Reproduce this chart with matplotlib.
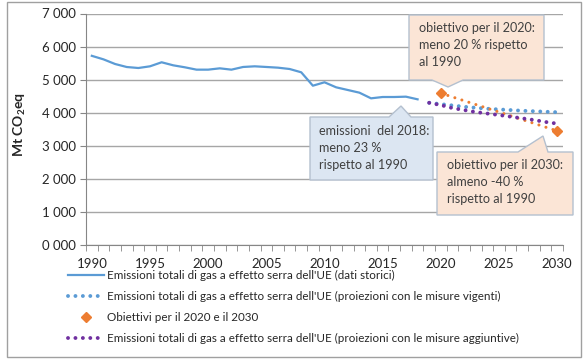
import numpy as np
import matplotlib
matplotlib.use('Agg')
import matplotlib.pyplot as plt
from matplotlib.lines import Line2D
from matplotlib.patches import Polygon

# data
years_hist = list(range(1990, 2019))
hist = [5720, 5614, 5473, 5382, 5352, 5403, 5525, 5433, 5373, 5302,
        5302, 5342, 5302, 5383, 5403, 5383, 5362, 5322, 5222, 4817,
        4920, 4768, 4687, 4606, 4435, 4475, 4475, 4485, 4405]

years_proj = list(range(2019, 2031))
wem = [4300, 4260, 4220, 4180, 4150, 4120, 4100, 4080, 4060, 4045, 4030, 4015]
wam = [4300, 4230, 4140, 4080, 4020, 3975, 3930, 3880, 3830, 3780, 3720, 3670]

target_years = [2020, 2030]
targets = [4590, 3450]

ytick_vals = [0, 1000, 2000, 3000, 4000, 5000, 6000, 7000]
ytick_labels = ['0 000', '1 000', '2 000', '3 000', '4 000', '5 000', '6 000', '7 000']
xtick_vals = [1990, 1995, 2000, 2005, 2010, 2015, 2020, 2025, 2030]

labels = ["Emissioni totali di gas a effetto serra dell'UE (dati storici)",
          "Emissioni totali di gas a effetto serra dell'UE (proiezioni con le misure vigenti)",
          "Obiettivi per il 2020 e il 2030",
          "Emissioni totali di gas a effetto serra dell'UE (proiezioni con le misure aggiuntive)"]

note_2018 = "emissioni  del 2018:\nmeno 23 %\nrispetto al 1990"
note_2020 = "obiettivo per il 2020:\nmeno 20 % rispetto\nal 1990"
note_2030 = "obiettivo per il 2030:\nalmeno -40 %\nrispetto al 1990"

plt.rcParams['font.family'] = ['Lato', 'DejaVu Sans']
plt.rcParams['mathtext.fontset'] = 'custom'
plt.rcParams['mathtext.bf'] = 'Lato:bold'
plt.rcParams['mathtext.rm'] = 'Lato'

W, H = 583, 363
fig = plt.figure(figsize=(W / 100, H / 100), dpi=100)

def fx(x, y):
    return (x / W, 1 - y / H)

# outer chart border
fig.patches.append(Polygon([fx(7, 2), fx(581, 2), fx(581, 357), fx(7, 357)],
                           closed=True, fill=False, edgecolor='#a0a0a0', lw=1,
                           transform=fig.transFigure, figure=fig))

ax = fig.add_axes([86 / W, (H - 245) / H, 477 / W, 231.5 / H])

blue = '#5b9bd5'
orange = '#ed7d31'
purple = '#7030a0'
dots = (0, (0.01, 1.9))

ax.plot(years_hist, hist, color=blue, lw=1.6, zorder=3)
ax.plot(years_proj, wem, color=blue, lw=2.8, linestyle=dots,
        dash_capstyle='round', zorder=3)
ax.plot(target_years, targets, color=orange, lw=2.2, linestyle=(0, (0.01, 2.4)),
        dash_capstyle='round', zorder=4)
ax.plot(target_years, targets, color=orange, marker='D', ms=5.5, linestyle='none', zorder=5)
ax.plot(years_proj, wam, color=purple, lw=2.8, linestyle=dots,
        dash_capstyle='round', zorder=4)

ax.set_xlim(1989.5, 2030.5)
ax.set_ylim(0, 7000)
ax.set_yticks(ytick_vals)
ax.set_yticklabels(ytick_labels)
ax.set_xticks(xtick_vals)
ax.set_xticks(np.arange(1989.5, 2031, 1), minor=True)
ax.tick_params(axis='x', which='major', length=0, pad=9, labelsize=9.5, colors='#262626')
ax.tick_params(axis='x', which='minor', length=4, color='#868686', direction='out')
ax.tick_params(axis='y', length=4, color='#868686', labelsize=9.5, colors='#262626', pad=3)
ax.grid(axis='y', color='#a6a6a6', lw=1)
ax.set_axisbelow(True)
for s in ['top', 'right']:
    ax.spines[s].set_visible(False)
ax.spines['left'].set_color('#868686')
ax.spines['bottom'].set_color('#868686')

ax.set_ylabel(r'Mt CO$_\mathbf{2}$eq', fontsize=10, fontweight='bold', color='#262626')
ax.yaxis.set_label_coords(-0.122, 0.52)

# callouts
def callout(pts, fc, text, tx, ty):
    fig.patches.append(Polygon([fx(*p) for p in pts], closed=True, facecolor=fc,
                               edgecolor='#b4c0cf', lw=1, transform=fig.transFigure,
                               figure=fig, zorder=6))
    fig.text(*fx(tx, ty), text, fontsize=9.1, color='#404040', ha='left', va='center',
             linespacing=1.5, zorder=7)

callout([(310, 117), (389, 117), (401, 106), (411, 117), (433, 117), (433, 180), (310, 180)],
        '#dce6f2', note_2018, 319, 148)
callout([(409, 15), (544, 15), (544, 80), (463, 80), (448, 87), (432, 80), (409, 80)],
        '#fbe5d6', note_2020, 419, 45)
callout([(437, 152), (518, 152), (543, 136), (548, 152), (573, 152), (573, 215), (437, 215)],
        '#fbe5d6', note_2030, 447, 182)

handles = [Line2D([], [], color=blue, lw=1.6),
           Line2D([], [], color=blue, lw=2.8, linestyle=dots, dash_capstyle='round'),
           Line2D([], [], color=orange, marker='D', ms=5.5, linestyle='none'),
           Line2D([], [], color=purple, lw=2.8, linestyle=dots, dash_capstyle='round')]
fig.legend(handles, labels, loc='upper left', bbox_to_anchor=fx(68, 270),
           frameon=False, fontsize=8.4, handlelength=3.1, handletextpad=0.25,
           labelspacing=0.85, borderaxespad=0, borderpad=0, labelcolor='#262626')

fig.savefig('out.png', dpi=100)
